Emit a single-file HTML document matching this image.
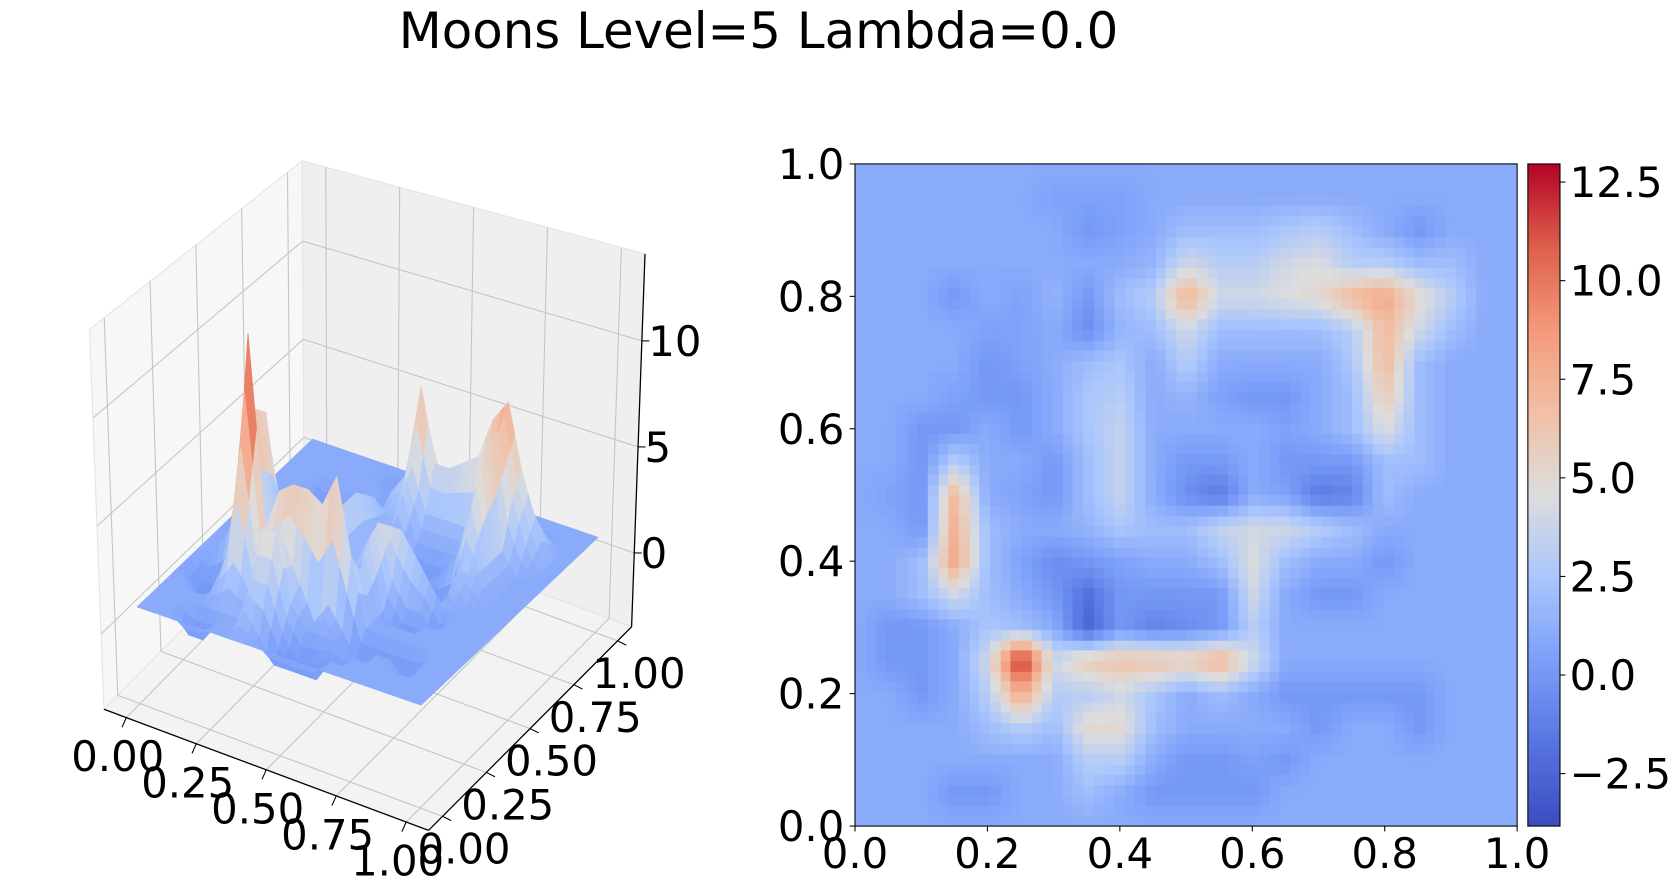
<!DOCTYPE html>
<html><head><meta charset="utf-8">
<style>
html,body{margin:0;padding:0;background:#fff;overflow:hidden}
#root{position:absolute;left:0;top:0;width:1568px;height:831px;transform:scale(1.071429);transform-origin:0 0;font-family:"DejaVu Sans","Liberation Sans",sans-serif}
#heat{position:absolute;left:798px;top:153px;width:618px;height:618px}
#cbar{position:absolute;left:1426px;top:153px;width:30px;height:618px}
svg{position:absolute;left:0;top:0}
</style></head>
<body>
<div id="root">
<svg id="s3d" width="1568" height="831"></svg>
<canvas id="heat" width="618" height="618"></canvas>
<canvas id="cbar" width="30" height="618"></canvas>
<svg id="s2d" width="1568" height="831"></svg>
</div>
<script>
// ---- data ----
const xVals = [0,0.05,0.1,0.15,0.2,0.25,0.3,0.35,0.4,0.45,0.5,0.55,0.6,0.65,0.7,0.75,0.8,0.85,0.9,0.95,1.0];
const yVals = [1.0,0.95,0.9,0.85,0.8,0.75,0.7,0.65,0.6,0.55,0.5,0.45,0.4,0.35,0.3,0.25,0.2,0.15,0.1,0.05,0];
const zRows = [
[1,1,1,1,1,1,1,1,1,1,1,1,1,1,1,1,1,1,1,1,1],
[1,1,1,1,1,1,0.5,0.5,0.5,1,1,1,1,1,1,1,1,1,1,1,1],
[1,1,1,1,1,1,1,0,0.5,1,2,2,2,2.5,3,2,1,0,1,1,1],
[1,1,1,1,1,1,1,1,1,1.5,4,3,3,4,4.5,3,3,2,2,1,1],
[1,1,1,0,1,0.5,1.5,0,2,3,7.5,4,4,4.5,5,7,8,5,3,1,1],
[1,1,1,1,0.5,0.5,1,-0.5,1.5,2,4,2,2,2,2,3,7,4,2,1,1],
[1,1,1,1,0,0.5,1,2,2.5,1,3,1,1,1,1,2.5,7,2,1,1,1],
[1,1,1,0.5,0,0,1,2.5,3,1,1.5,0.5,0,0,1,2,6,2,1,1,1],
[1,1,0,0,1,0,1,2.5,3.5,1,1,1,1,0.5,1,2,4.5,2,1,1,1],
[1,1,0,3,1,1,0,2,3.5,1,0,0,1,0,0,0,2,2,1,1,1],
[1,0.5,0,7,1,0.5,0,2,3.5,1,-0.5,-1.5,1,0.5,-1.5,-1,2,1,1,1,1],
[1,1,0,7.5,2,1,1,1.5,2.5,2,2,3.5,4,4,3,2,1,1,1,1,1],
[1,1,2,8,2,0.5,-0.5,0,0.5,1,1,2,4.5,2,1,1,0,1,1,1,1],
[1,1,2,4,2,1,0,-2,0,0,0,0,4,1,0,0,1,1,1,1,1],
[1,0,0,1,2.5,2,1,-2.5,0,-1,-0.5,0,3,1,1,1,1,1,1,1,1],
[1,0,0,1,4,12.9,4,6,6.5,6.5,6,7.5,4,1,1,1,1,1,1,1,1],
[1,1,0,1,3,8,3,3,4,2.5,1,2,1,0,0,0,0,0,1,1,1],
[1,1,1,1,2,3,2,5,5,2,1,1,1,1,0,1,1,0,1,1,1],
[1,1,1,1,1,1,1,3,3,1,0,0,0.5,0,1,1,1,1,1,1,1],
[1,1,1,0,0,1,1,2,1,0,0,0,0,1,1,1,1,1,1,1,1],
[1,1,1,1,1,1,1,1,1,1,1,1,1,1,1,1,1,1,1,1,1]
];
const heatTicks = [0,0.2,0.4,0.6,0.8,1.0];
const heatTickLabels = ["0.0","0.2","0.4","0.6","0.8","1.0"];
const cbarTicks = [-2.5,0,2.5,5,7.5,10,12.5];
const cbarTickLabels = ["\u22122.5","0.0","2.5","5.0","7.5","10.0","12.5"];
const axTicks3d = [0,0.25,0.5,0.75,1.0];
const axTickLabels3d = ["0.00","0.25","0.50","0.75","1.00"];
const zTicks3d = [0,5,10];
const zTickLabels3d = ["0","5","10"];

const vmin=-3.83, vmax=12.96;
const cmapStops=[[0,[59,76,192]],[0.125,[87,117,225]],[0.25,[124,159,249]],[0.375,[170,198,253]],[0.5,[221,221,221]],[0.625,[241,192,165]],[0.75,[244,154,123]],[0.875,[222,96,76]],[1,[180,4,38]]];
function cmap(v){
  let t=(v-vmin)/(vmax-vmin); t=Math.max(0,Math.min(1,t));
  for(let k=1;k<cmapStops.length;k++){
    if(t<=cmapStops[k][0]){
      const a=cmapStops[k-1],b=cmapStops[k],f=(t-a[0])/(b[0]-a[0]);
      return a[1].map((c,i)=>Math.round(c+(b[1][i]-c)*f));
    }
  }
  return cmapStops[cmapStops.length-1][1];
}
const rgb=c=>`rgb(${c[0]},${c[1]},${c[2]})`;
const NS="http://www.w3.org/2000/svg";
function mk(parent,tag,attrs,txt){const e=document.createElementNS(NS,tag);for(const k in attrs)e.setAttribute(k,attrs[k]);if(txt!==undefined)e.textContent=txt;parent.appendChild(e);return e;}

// ---- heatmap ----
const hx0=798,hy0=153,hw=618,hh=618;
const sx=v=>hx0+v*hw, sy=v=>hy0+(1-v)*hh;
function sample(x,y){
  const n=xVals.length-1;
  const fx=Math.max(0,Math.min(1,x))*n, fr=(1-Math.max(0,Math.min(1,y)))*n;
  const c0=Math.min(n-1,Math.floor(fx)), r0=Math.min(n-1,Math.floor(fr));
  const tx=fx-c0, ty=fr-r0;
  const a=zRows[r0][c0],b=zRows[r0][c0+1],c=zRows[r0+1][c0],d=zRows[r0+1][c0+1];
  return a*(1-tx)*(1-ty)+b*tx*(1-ty)+c*(1-tx)*ty+d*tx*ty;
}
(function(){
  const cv=document.getElementById('heat'),ctx=cv.getContext('2d');
  const img=ctx.createImageData(618,618);
  const cell=618/64;
  for(let py=0;py<618;py++)for(let px=0;px<618;px++){
    const qx=(Math.floor(px/cell)+0.5)/64, qy=1-(Math.floor(py/cell)+0.5)/64;
    const c=cmap(sample(qx,qy));const i=(py*618+px)*4;
    img.data[i]=c[0];img.data[i+1]=c[1];img.data[i+2]=c[2];img.data[i+3]=255;
  }
  ctx.putImageData(img,0,0);
  const cb=document.getElementById('cbar').getContext('2d');
  for(let py=0;py<618;py++){const v=vmax-(py/617)*(vmax-vmin);cb.fillStyle=rgb(cmap(v));cb.fillRect(0,py,30,1);}
})();
(function(){
  const s=document.getElementById('s2d');
  const t=mk(s,'text',{x:708,y:45,'font-size':46.5,'text-anchor':'middle',fill:'#000'},'Moons Level=5 Lambda=0.0');
  
  const fr=mk(s,'rect',{x:hx0,y:hy0,width:hw,height:hh,fill:'none',stroke:'#000','stroke-width':1});
  
  heatTicks.forEach((v,i)=>{
    const X=sx(v);
    const tk=mk(s,'line',{x1:X,x2:X,y1:hy0+hh,y2:hy0+hh+5,stroke:'#000'});
    
    const lb=mk(s,'text',{x:X,y:hy0+hh+39,'font-size':39,'text-anchor':'middle'},heatTickLabels[i]);
    
    const Y=sy(v);
    const tk2=mk(s,'line',{x1:hx0-5,x2:hx0,y1:Y,y2:Y,stroke:'#000'});
    
    const lb2=mk(s,'text',{x:hx0-10,y:Y+14,'font-size':39,'text-anchor':'end'},heatTickLabels[i]);
    
  });
  const cr=mk(s,'rect',{x:1426,y:153,width:30,height:618,fill:'none',stroke:'#000','stroke-width':1});
  
  cbarTicks.forEach((v,i)=>{
    const Y=153+(vmax-v)/(vmax-vmin)*618;
    const tk=mk(s,'line',{x1:1456,x2:1461,y1:Y,y2:Y,stroke:'#000'});
    
    const lb=mk(s,'text',{x:1465,y:Y+14,'font-size':39},cbarTickLabels[i]);
    
  });
})();

// ---- 3D surface ----
const m=0.08, zmin=-3.48, zmax=14.1;
const Cb={L:[97,662],F:[400,775],B:[284,472],R:[589.5,585]};
const Ct={L:[83.6,307.5],F:[403.6,394.5],B:[282,150],R:[602,237]};
function bil(C,u,v,k){return C.L[k]*(1-u)*(1-v)+C.F[k]*u*(1-v)+C.B[k]*(1-u)*v+C.R[k]*u*v;}
function puvw(u,v,w){
  const bx=bil(Cb,u,v,0),by=bil(Cb,u,v,1),tx=bil(Ct,u,v,0),ty=bil(Ct,u,v,1);
  return [bx+(tx-bx)*w,by+(ty-by)*w];
}
const U=x=>(x+m)/(1+2*m), W=z=>(z-zmin)/(zmax-zmin);
const P=(x,y,z)=>puvw(U(x),U(y),W(z));
const pts=a=>a.map(p=>p[0].toFixed(1)+','+p[1].toFixed(1)).join(' ');
(function(){
  const s=document.getElementById('s3d');
  const panes=[
    ['left-pane',[[0,0,0],[0,1,0],[0,1,1],[0,0,1]],'#f7f7f7'],
    ['right-pane',[[0,1,0],[1,1,0],[1,1,1],[0,1,1]],'#efefef'],
    ['floor-pane',[[0,0,0],[1,0,0],[1,1,0],[0,1,0]],'#f3f3f3']];
  panes.forEach(p=>{
    const e=mk(s,'polygon',{points:pts(p[1].map(q=>puvw(...q))),fill:p[2],stroke:'#e4e4e4','stroke-width':1});
    
  });
  const gl=(a,b)=>{const e=mk(s,'line',{x1:a[0],y1:a[1],x2:b[0],y2:b[1],stroke:'#c4c4c4','stroke-width':1});
    };
  axTicks3d.forEach(t=>{const q=U(t);
    gl(puvw(0,q,0),puvw(0,q,1)); gl(puvw(q,1,0),puvw(q,1,1));
    gl(puvw(q,0,0),puvw(q,1,0)); gl(puvw(0,q,0),puvw(1,q,0));});
  zTicks3d.forEach(z=>{const w=W(z); gl(puvw(0,0,w),puvw(0,1,w)); gl(puvw(0,1,w),puvw(1,1,w));});
  const al=(a,b,n)=>{const e=mk(s,'line',{x1:a[0],y1:a[1],x2:b[0],y2:b[1],stroke:'#000','stroke-width':1.2});
    };
  al(puvw(0,0,0),puvw(1,0,0),'x-axis-line');
  al(puvw(1,0,0),puvw(1,1,0),'y-axis-line');
  al(puvw(1,1,0),puvw(1,1,1),'z-axis-line');
  // surface quads (rendered at 40x40 from bilinear sampling), far to near
  const N=40;
  const cells=[];
  for(let j=0;j<N;j++)for(let i=0;i<N;i++)cells.push([i,j]);
  cells.sort((a,b)=>((a[0]-a[1])-(b[0]-b[1])));
  cells.forEach(([i,j])=>{
    const q=[[i,j],[i+1,j],[i+1,j+1],[i,j+1]].map(([a,b])=>[a/N,b/N]);
    const zs=q.map(([x,y])=>sample(x,y));
    const P4=q.map(([x,y],k)=>P(x,y,zs[k]));
    const avg=zs.reduce((s2,v)=>s2+v,0)/4;
    const col=rgb(cmap(avg));
    const e=mk(s,'polygon',{points:pts(P4),fill:col,stroke:col,'stroke-width':0.6,'stroke-linejoin':'round'});
    
    
  });
  axTicks3d.forEach((t,i)=>{
    const p=puvw(U(t),0,0);
    const tk=mk(s,'line',{x1:p[0],y1:p[1],x2:p[0]-4,y2:p[1]+9,stroke:'#000'});
    
    const lb=mk(s,'text',{x:p[0]-8,y:p[1]+50,'font-size':39,'text-anchor':'middle'},axTickLabels3d[i]);
    
    const p2=puvw(1,U(t),0);
    const tk2=mk(s,'line',{x1:p2[0],y1:p2[1],x2:p2[0]+8,y2:p2[1]+4,stroke:'#000'});
    
    const lb2=mk(s,'text',{x:p2[0]+20,y:p2[1]+44,'font-size':39,'text-anchor':'middle'},axTickLabels3d[i]);
    
  });
  zTicks3d.forEach((z,i)=>{
    const p=puvw(1,1,W(z));
    const tk=mk(s,'line',{x1:p[0],y1:p[1],x2:p[0]+7,y2:p[1],stroke:'#000'});
    
    const lb=mk(s,'text',{x:p[0]+6,y:p[1]+14,'font-size':39},zTickLabels3d[i]);
    
  });
})();
</script>
</body></html>
